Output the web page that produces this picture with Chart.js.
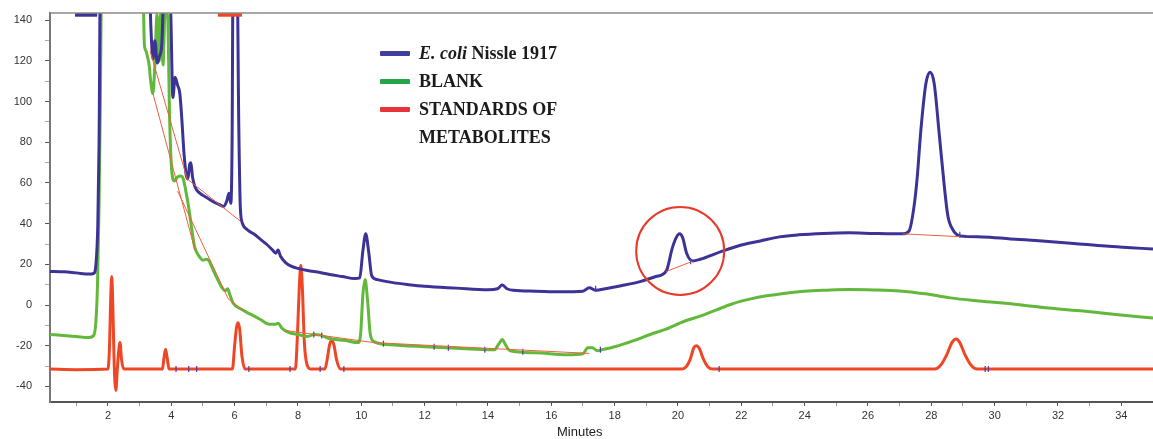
<!DOCTYPE html>
<html>
<head>
<meta charset="utf-8">
<script src="https://cdn.jsdelivr.net/npm/chart.js@4.4.1/dist/chart.umd.min.js"></script>
<style>
  html, body { margin: 0; padding: 0; background: #fff; }
  #wrap { position: relative; width: 1153px; height: 439px; }
  #legend {
    position: absolute; left: 380px; top: 39px;
    font-family: 'Liberation Serif', 'Times New Roman', serif;
    font-weight: bold; font-size: 18px; line-height: 28px; color: #1b1b1b;
  }
  .item { display: flex; align-items: flex-start; }
  .swatch { width: 30px; height: 5px; margin-top: 12px; margin-right: 9px; border-radius: 1px; flex: none; }
  #xtitle {
    position: absolute; left: 557px; top: 424px;
    font-family: 'Liberation Sans', Arial, sans-serif; font-size: 13px; line-height: 16px; color: #222;
  }
</style>
</head>
<body>
<div id="wrap">
  <canvas id="chart" width="1153" height="439"></canvas>
  <div id="legend"></div>
  <div id="xtitle">Minutes</div>
</div>
<script>
// Chromatogram traces (time in minutes, signal in mAU). 160 = off scale.
const ecoliTime = [
  0.17, 0.6, 1.0, 1.4, 1.55, 1.62, 1.68, 1.72, 1.76,
  3.3, 3.36, 3.42, 3.48, 3.56, 3.62, 3.7, 3.78, 3.9, 3.98,
  4.05, 4.12, 4.2, 4.27, 4.33, 4.4, 4.47, 4.52, 4.58, 4.62,
  4.67, 4.75, 4.9, 5.1, 5.3, 5.5, 5.65, 5.75, 5.82, 5.88,
  5.92, 5.95, 6.08, 6.13, 6.18, 6.25, 6.4, 6.6, 6.8, 7.0,
  7.2, 7.3, 7.37, 7.45, 7.6, 7.8, 8.0, 8.3, 8.7, 9.0,
  9.4, 9.8, 9.95, 10.05, 10.14, 10.23, 10.33, 10.5, 11.0, 11.5,
  12.0, 13.0, 14.0, 14.3, 14.45, 14.6, 14.8, 15.5, 16.3, 17.0,
  17.2, 17.4, 17.7, 18.2, 18.8, 19.3, 19.63, 19.82, 19.94, 20.05,
  20.15, 20.27, 20.46, 20.7, 21.4, 22.0, 22.6, 23.2, 23.8, 24.6,
  25.4, 26.2, 27.1, 27.3, 27.45, 27.55, 27.67, 27.83, 27.96, 28.09,
  28.25, 28.4, 28.52, 28.68, 28.9, 29.6, 30.5, 31.5, 32.5, 33.5,
  34.3, 35.0
];
const ecoliSignal = [
  16.5, 16.3, 15.8, 15.2, 15.5, 20, 40, 80, 160,
  160, 135, 121, 130, 119, 122, 128, 160, 160, 145,
  102, 112, 108, 104, 92, 75, 64, 62, 69, 70,
  63, 58, 55, 53, 51, 49.5, 48.5, 51, 55, 50,
  80, 160, 160, 90, 48, 40, 37, 35, 32.5, 30,
  27, 25.5, 27, 24, 21, 19, 18, 17, 16, 15,
  14, 13, 13.3, 26.6, 35, 26.6, 14.3, 12.5, 11, 10,
  9.2, 8.3, 7.5, 8, 9.8, 8, 7.2, 6.8, 6.5, 6.8,
  8.5, 7.3, 8, 9.5, 11.5, 14, 16.7, 28, 33, 35,
  33, 25.6, 21.7, 22.5, 26.5, 29.5, 31.5, 33.5, 34.5, 35.2,
  35.5, 35.2, 35, 36.5, 48, 62, 86, 109, 114.5, 109,
  84, 60, 44, 37, 34, 33.5, 32.5, 31.5, 30.3, 29,
  28.2, 27.5
];

const blankTime = [
  0.17, 0.6, 1.0, 1.4, 1.55, 1.62, 1.67, 1.72, 1.76, 1.8,
  3.1, 3.15, 3.2, 3.25, 3.3, 3.35, 3.42, 3.48, 3.55, 3.62,
  3.66, 3.74, 3.8, 3.88, 3.95, 4.02, 4.1, 4.2, 4.3, 4.38,
  4.46, 4.55, 4.65, 4.73, 4.8, 4.9, 5.0, 5.1, 5.18, 5.3,
  5.45, 5.6, 5.7, 5.78, 5.85, 5.95, 6.2, 6.5, 6.8, 7.1,
  7.3, 7.37, 7.5, 7.7, 8.0, 8.3, 8.5, 8.7, 9.0, 9.5,
  9.9, 9.98, 10.05, 10.12, 10.2, 10.28, 10.4, 10.9, 12.0, 13.0,
  14.2, 14.35, 14.45, 14.55, 14.7, 15.5, 16.5, 17.0, 17.15, 17.3,
  17.45, 17.6, 18.0, 18.6, 19.2, 19.6, 20.2, 20.7, 21.2, 21.7,
  22.3, 22.8, 23.4, 24.0, 24.7, 25.4, 26.2, 27.0, 27.8, 28.6,
  29.5, 30.7, 31.7, 32.8, 33.9, 35.0
];
const blankSignal = [
  -14.5, -15, -15.5, -16, -15, -8, 10, 50, 100, 160,
  160, 128, 125, 122, 118, 110, 104, 118, 143, 120,
  143, 118, 143, 143, 90, 65, 61, 63, 63.5, 62,
  56, 48, 37, 29, 26, 23.5, 22, 22.5, 22, 18,
  13, 8.5, 7, 8, 5, 1, -2, -4.5, -7, -9.5,
  -9.5, -9, -11.5, -13.5, -14.5, -15.5, -14.5, -14.8, -16.5, -17.5,
  -18.5, -14, 5, 12.5, 2, -14, -18, -19.5, -20.5, -21.3,
  -22, -19, -17, -19.5, -22.5, -23.5, -24.5, -24, -21, -21,
  -22.5, -22, -20.5, -17.5, -14, -12, -8, -5.5, -2.5, 0.5,
  3, 4.5, 5.8, 6.8, 7.3, 7.6, 7.4, 6.9, 5.5, 3.5,
  2, 0.3, -1.5, -3, -4.8, -6.4
];

const standardsTime = [
  0.17, 1.0, 2.0, 2.05, 2.09, 2.12, 2.15, 2.19, 2.22, 2.25,
  2.29, 2.33, 2.38, 2.43, 2.5, 3.72, 3.77, 3.82, 3.87, 3.93,
  5.93, 6.0, 6.06, 6.11, 6.16, 6.23, 6.33, 7.92, 7.98, 8.04,
  8.09, 8.14, 8.2, 8.28, 8.4, 8.85, 8.93, 9.0, 9.07, 9.14,
  9.22, 9.35, 20.1, 20.25, 20.38, 20.5, 20.58, 20.68, 20.8, 20.95,
  21.1, 28.1, 28.3, 28.5, 28.65, 28.78, 28.9, 29.05, 29.25, 29.45,
  35.0
];
const standardsSignal = [
  -31.5, -31.8, -31.5, -20, 5, 14, 2, -25, -38, -42,
  -33, -24, -18.5, -27, -31.5, -31.5, -26, -21.7, -26, -31.5,
  -31.5, -20, -11, -8.7, -12, -25, -31.5, -31.5, -16, 8,
  19.5, 8, -18, -29, -31.5, -31.5, -26, -19.5, -17.5, -20,
  -27, -31.5, -31.5, -30.5, -27, -21, -20, -21.5, -26.5, -30.5,
  -31.5, -31.5, -29.5, -24, -18.5, -16.7, -18.5, -24, -29.5, -31.5,
  -31.5
];

// integration baselines (null = break between segments)
const baseTime   = [3.33, 4.5, 6.2, 6.2, 3.42, 4.75, 4.75, 4.2, 5.8, 6.3, 6.3, 7.6, 10.4, 17.2, 17.2, 19.63, 20.46, 20.46, 27.1, 28.9];
const baseSignal = [125, 62, 41, null, 104, 27, null, 56, 3, -3, null, -12.5, -18.5, -23.8, null, 16.5, 21.5, null, 35, 33.6];

// peak start/end markers
const markTime   = [4.15, 4.55, 4.8, 6.45, 7.75, 8.7, 9.45, 21.3, 29.7, 29.8, 8.5, 8.75, 10.7, 12.3, 12.75, 13.9, 15.1, 17.55, 17.4, 20.4, 28.9];
const markSignal = [-31.5, -31.5, -31.5, -31.5, -31.5, -31.5, -31.5, -31.5, -31.5, -31.5, -14.5, -15, -19, -20.5, -21, -22, -23, -22, 8, 21.5, 34.5];

// off-scale flags drawn on the top edge
const ecoliFlagTime = [0.96, 1.66];
const stdFlagTime = [5.47, 6.23];
const flagSignal = [143, 143];

const seriesLabels = ['<i>E. coli</i> Nissle 1917', 'BLANK', 'STANDARDS OF<br>METABOLITES'];
const legendColors = ['#3f3f9e', '#25a548', '#e8333a'];
const xTickLabels = [2, 4, 6, 8, 10, 12, 14, 16, 18, 20, 22, 24, 26, 28, 30, 32, 34];
const yTickLabels = [-40, -20, 0, 20, 40, 60, 80, 100, 120, 140];

const highlight = { time: 20.07, signal: 26.6 };

const toPoints = (t, v) => t.map((x, i) => ({ x: x, y: v[i] }));

const trace = (label, t, v, color, order) => ({
    label, data: toPoints(t, v), borderColor: color, borderWidth: 3,
    pointRadius: 0, cubicInterpolationMode: 'monotone', order
});

// plugin: frame on top + red circle round the peak at ~20 min
const extras = {
    id: 'extras',
    afterDatasetsDraw(chart) {
        const { ctx, chartArea, scales } = chart;
        ctx.save();
        ctx.strokeStyle = '#8a8a8a';
        ctx.lineWidth = 1.5;
        ctx.beginPath();
        ctx.moveTo(chartArea.left, chartArea.top);
        ctx.lineTo(chartArea.right, chartArea.top);
        ctx.stroke();

        ctx.strokeStyle = '#e8392c';
        ctx.lineWidth = 2;
        ctx.beginPath();
        ctx.arc(scales.x.getPixelForValue(highlight.time), scales.y.getPixelForValue(highlight.signal), 44, 0, Math.PI * 2);
        ctx.stroke();
        ctx.restore();
    }
};

const tickFont = { family: "'Liberation Sans', Arial, sans-serif", size: 11 };

new Chart(document.getElementById('chart'), {
    type: 'line',
    data: {
        datasets: [
            { label: 'baseline', data: toPoints(baseTime, baseSignal), borderColor: '#f0603c', borderWidth: 1, pointRadius: 0, tension: 0, order: 0 },
            { label: 'marks', type: 'scatter', data: toPoints(markTime, markSignal), pointStyle: 'line', rotation: 90, pointRadius: 3, borderColor: '#4a3fa8', borderWidth: 1.2, order: 0 },
            { label: 'flag1', data: toPoints(ecoliFlagTime, flagSignal), borderColor: '#3c3396', borderWidth: 5, pointRadius: 0, order: 1 },
            { label: 'flag2', data: toPoints(stdFlagTime, flagSignal), borderColor: '#ef4626', borderWidth: 5, pointRadius: 0, order: 1 },
            trace('E. coli Nissle 1917', ecoliTime, ecoliSignal, '#3c3396', 2),
            trace('BLANK', blankTime, blankSignal, '#62b83a', 3),
            trace('STANDARDS OF METABOLITES', standardsTime, standardsSignal, '#ef4626', 4)
        ]
    },
    options: {
        responsive: false,
        animation: false,
        layout: { autoPadding: false, padding: { top: 13, right: 0, left: 0, bottom: 0 } },
        plugins: { legend: { display: false }, tooltip: { enabled: false } },
        scales: {
            x: {
                type: 'linear', min: 0.17, max: 35,
                afterFit: s => { s.height = 37; s.paddingRight = 0; s.paddingLeft = 0; },
                ticks: {
                    stepSize: 1, includeBounds: false, autoSkip: false, maxRotation: 0,
                    padding: 3, color: '#333', font: tickFont,
                    callback: v => xTickLabels.includes(v) ? v : ''
                },
                grid: {
                    drawOnChartArea: false, tickLength: 4,
                    tickColor: c => xTickLabels.includes(c.tick.value) ? '#555' : '#999'
                },
                border: { color: '#555', width: 2 }
            },
            y: {
                min: -47.7, max: 143.6,
                afterFit: s => { s.width = 50; s.paddingTop = 0; s.paddingBottom = 0; },
                ticks: {
                    stepSize: 10, includeBounds: false, padding: 13, color: '#333', font: tickFont,
                    callback: v => yTickLabels.includes(v) ? v : ''
                },
                grid: {
                    drawOnChartArea: false, tickLength: 5,
                    tickColor: c => yTickLabels.includes(c.tick.value) ? '#555' : '#aaa'
                },
                border: { color: '#777', width: 2 }
            }
        }
    },
    plugins: [extras]
});

// legend
const legend = document.getElementById('legend');
seriesLabels.forEach((lbl, i) => {
    legend.innerHTML += `<div class="item"><span class="swatch" style="background:${legendColors[i]}"></span><span>${lbl}</span></div>`;
});
</script>
</body>
</html>
